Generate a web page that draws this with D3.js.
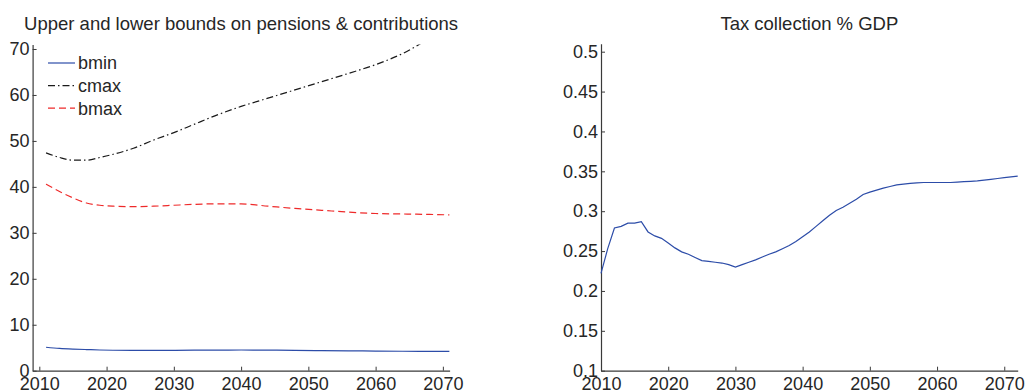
<!DOCTYPE html>
<html>
<head>
<meta charset="utf-8">
<script src="https://cdn.jsdelivr.net/npm/d3@7"></script>
<style>
  html, body { margin: 0; padding: 0; background: #fff; }
  svg { display: block; }
  text { font-family: "Liberation Sans", Arial, Helvetica, sans-serif; fill: #262626; }
</style>
</head>
<body>
<svg id="chart" width="1025" height="392"></svg>
<script>
// ---- Left panel: bounds on pensions and contributions ----
const boundYears = [2011, 2013, 2015, 2017, 2019, 2021, 2024, 2027, 2030, 2033, 2036, 2040, 2044, 2048, 2052, 2056, 2060, 2064, 2068, 2071];
const bmin = [5.1, 4.85, 4.7, 4.6, 4.5, 4.45, 4.42, 4.43, 4.44, 4.46, 4.48, 4.5, 4.48, 4.42, 4.37, 4.32, 4.27, 4.23, 4.22, 4.22];
const cmax = [47.4, 46.4, 45.8, 45.8, 46.4, 47.1, 48.4, 50.2, 51.8, 53.6, 55.4, 57.5, 59.3, 61.1, 62.9, 64.7, 66.6, 69.0, 72.3, 74.8];
const bmax = [40.6, 39.0, 37.6, 36.5, 36.0, 35.8, 35.7, 35.8, 36.0, 36.2, 36.3, 36.3, 35.8, 35.3, 34.9, 34.5, 34.2, 34.1, 34.0, 33.9];
const leftYTicks = [0, 10, 20, 30, 40, 50, 60, 70];
const leftXTicks = [2010, 2020, 2030, 2040, 2050, 2060, 2070];

// ---- Right panel: tax collection as share of GDP ----
const taxYears = d3.range(2010, 2073);
const taxShare = [
  0.222, 0.253, 0.279, 0.281, 0.285, 0.285, 0.287, 0.274, 0.269, 0.266,
  0.260, 0.254, 0.249, 0.246, 0.242, 0.238, 0.237, 0.236, 0.235, 0.233,
  0.230, 0.233, 0.236, 0.239, 0.2425, 0.246, 0.249, 0.253, 0.257, 0.262,
  0.268, 0.274, 0.281, 0.288, 0.295, 0.301, 0.305, 0.310, 0.315, 0.321,
  0.324, 0.3265, 0.329, 0.331, 0.333, 0.334, 0.335, 0.3355, 0.336, 0.336,
  0.336, 0.336, 0.336, 0.3365, 0.337, 0.3375, 0.338, 0.339, 0.340, 0.341,
  0.342, 0.343, 0.344
];
const rightYTicks = [0.1, 0.15, 0.2, 0.25, 0.3, 0.35, 0.4, 0.45, 0.5];
const rightYLabels = ["0.1", "0.15", "0.2", "0.25", "0.3", "0.35", "0.4", "0.45", "0.5"];
const rightXTicks = [2010, 2020, 2030, 2040, 2050, 2060, 2070];

const legendNames = ["bmin", "cmax", "bmax"];

const svg = d3.select("#chart");
const axisColor = "#3a3a3a";
const fontSize = 18;

const plotTop = 44.4, plotBottom = 370.7;

function styleAxis(g) {
  g.selectAll("path.domain").attr("stroke", axisColor).attr("stroke-width", 1.2);
  g.selectAll(".tick line").attr("stroke", axisColor).attr("stroke-width", 1);
  g.selectAll(".tick text").attr("font-size", fontSize).attr("fill", "#262626")
    .style("font-family", '"Liberation Sans", Arial, Helvetica, sans-serif');
}

// ===== Left panel =====
const xL = d3.scaleLinear().domain([2009, 2071]).range([32.6, 449.6]);
const yL = d3.scaleLinear().domain([0, 71]).range([plotBottom, plotTop]);

svg.append("defs").append("clipPath").attr("id", "clipL")
  .append("rect").attr("x", xL.range()[0]).attr("y", plotTop)
  .attr("width", xL.range()[1] - xL.range()[0]).attr("height", plotBottom - plotTop);

const gL = svg.append("g");

gL.append("g").attr("transform", `translate(0,${plotBottom})`)
  .call(d3.axisBottom(xL).tickValues(leftXTicks).tickFormat(d3.format("d"))
    .tickSizeInner(-4).tickSizeOuter(0).tickPadding(7))
  .call(styleAxis);

gL.append("g").attr("transform", `translate(${xL.range()[0]},0)`)
  .call(d3.axisLeft(yL).tickValues(leftYTicks).tickFormat(d3.format("d"))
    .tickSizeInner(-4).tickSizeOuter(0).tickPadding(3))
  .call(styleAxis);

const seriesL = [
  { name: "bmin", values: bmin, color: "#2c4ca8", dash: null },
  { name: "cmax", values: cmax, color: "#1a1a1a", dash: "7,3,1.5,3" },
  { name: "bmax", values: bmax, color: "#ee2a2a", dash: "7,4" }
];

const lineL = d3.line()
  .x(d => xL(d[0])).y(d => yL(d[1]))
  .curve(d3.curveMonotoneX);

const linesL = gL.append("g").attr("clip-path", "url(#clipL)");
seriesL.forEach(s => {
  linesL.append("path")
    .datum(boundYears.map((yr, i) => [yr, s.values[i]]))
    .attr("fill", "none")
    .attr("stroke", s.color)
    .attr("stroke-width", 1.2)
    .attr("stroke-dasharray", s.dash)
    .attr("d", lineL);
});

// legend
const legend = gL.append("g");
legendNames.forEach((name, i) => {
  const s = seriesL.find(d => d.name === name);
  const yRow = 63 + i * 22.6;
  legend.append("line")
    .attr("x1", 48).attr("x2", 75).attr("y1", yRow).attr("y2", yRow)
    .attr("stroke", s.color).attr("stroke-width", 1.2)
    .attr("stroke-dasharray", s.dash);
  legend.append("text")
    .attr("x", 78).attr("y", yRow + 6.3)
    .attr("font-size", fontSize)
    .text(name);
});

gL.append("text")
  .attr("x", (xL.range()[0] + xL.range()[1]) / 2).attr("y", 30)
  .attr("text-anchor", "middle").attr("font-size", 18.5)
  .text("Upper and lower bounds on pensions & contributions");

// ===== Right panel =====
const xR = d3.scaleLinear().domain([2010, 2072]).range([601, 1017.7]);
const yR = d3.scaleLinear().domain([0.1, 0.51]).range([plotBottom, plotBottom - 0.41 * 797.5]);

const gR = svg.append("g");

gR.append("g").attr("transform", `translate(0,${plotBottom})`)
  .call(d3.axisBottom(xR).tickValues(rightXTicks).tickFormat(d3.format("d"))
    .tickSizeInner(-4).tickSizeOuter(0).tickPadding(7))
  .call(styleAxis);

gR.append("g").attr("transform", `translate(${xR.range()[0]},0)`)
  .call(d3.axisLeft(yR).tickValues(rightYTicks)
    .tickFormat((d, i) => rightYLabels[i])
    .tickSizeInner(-4).tickSizeOuter(0).tickPadding(3))
  .call(styleAxis);

const lineR = d3.line().x(d => xR(d[0])).y(d => yR(d[1]));
gR.append("path")
  .datum(taxYears.map((yr, i) => [yr, taxShare[i]]))
  .attr("fill", "none")
  .attr("stroke", "#2c4ca8")
  .attr("stroke-width", 1.2)
  .attr("d", lineR);

gR.append("text")
  .attr("x", (xR.range()[0] + xR.range()[1]) / 2).attr("y", 29.5)
  .attr("text-anchor", "middle").attr("font-size", 18.5)
  .text("Tax collection % GDP");
</script>
</body>
</html>
